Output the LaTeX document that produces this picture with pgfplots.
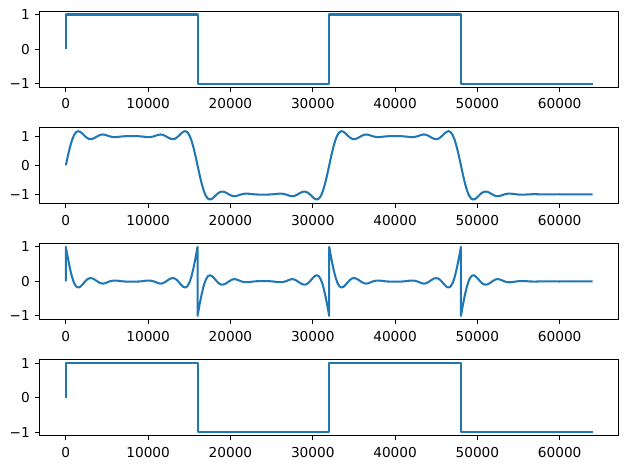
\documentclass[border=0pt]{standalone}
\usepackage{fontspec}
\setmainfont{DejaVu Sans}
\usepackage{pgfplots}
\usepackage{pgfplotstable}
\pgfplotsset{compat=1.18}
\definecolor{C0}{RGB}{31,119,180}

\pgfplotstableread{
x lp hp
0 0 0
0 0 1
250 0.328 0.672
500 0.626 0.374
750 0.871 0.129
1000 1.046 -0.046
1250 1.147 -0.147
1500 1.178 -0.178
1750 1.155 -0.155
2000 1.097 -0.097
2250 1.026 -0.026
2500 0.962 0.038
2750 0.919 0.081
3000 0.904 0.096
3250 0.916 0.084
3500 0.947 0.053
3750 0.988 0.012
4000 1.027 -0.027
4250 1.055 -0.055
4500 1.065 -0.065
4750 1.053 -0.053
5000 1.031 -0.031
5250 1.006 -0.006
5500 0.988 0.012
5750 0.977 0.023
6000 0.976 0.024
6250 0.980 0.020
6500 0.987 0.013
6750 0.995 0.005
7000 1.001 -0.001
7250 1.005 -0.005
7500 1.007 -0.007
7750 1.009 -0.009
8000 1.009 -0.009
8250 1.009 -0.009
8500 1.007 -0.007
8750 1.005 -0.005
9000 1.001 -0.001
9250 0.995 0.005
9500 0.987 0.013
9750 0.980 0.020
10000 0.976 0.024
10250 0.977 0.023
10500 0.988 0.012
10750 1.006 -0.006
11000 1.031 -0.031
11250 1.053 -0.053
11500 1.065 -0.065
11750 1.055 -0.055
12000 1.027 -0.027
12250 0.988 0.012
12500 0.947 0.053
12750 0.916 0.084
13000 0.904 0.096
13250 0.919 0.081
13500 0.962 0.038
13750 1.026 -0.026
14000 1.097 -0.097
14250 1.155 -0.155
14500 1.178 -0.178
14750 1.147 -0.147
15000 1.046 -0.046
15250 0.871 0.129
15500 0.626 0.374
15750 0.328 0.672
16000 0 1
16000 0 -1
16250 -0.328 -0.672
16500 -0.626 -0.374
16750 -0.871 -0.129
17000 -1.046 0.046
17250 -1.147 0.147
17500 -1.178 0.178
17750 -1.155 0.155
18000 -1.097 0.097
18250 -1.026 0.026
18500 -0.962 -0.038
18750 -0.919 -0.081
19000 -0.904 -0.096
19250 -0.916 -0.084
19500 -0.947 -0.053
19750 -0.988 -0.012
20000 -1.027 0.027
20250 -1.055 0.055
20500 -1.065 0.065
20750 -1.053 0.053
21000 -1.031 0.031
21250 -1.006 0.006
21500 -0.988 -0.012
21750 -0.977 -0.023
22000 -0.976 -0.024
22250 -0.980 -0.020
22500 -0.987 -0.013
22750 -0.995 -0.005
23000 -1.001 0.001
23250 -1.005 0.005
23500 -1.007 0.007
23750 -1.009 0.009
24000 -1.009 0.009
24250 -1.009 0.009
24500 -1.007 0.007
24750 -1.005 0.005
25000 -1.001 0.001
25250 -0.995 -0.005
25500 -0.987 -0.013
25750 -0.980 -0.020
26000 -0.976 -0.024
26250 -0.977 -0.023
26500 -0.988 -0.012
26750 -1.006 0.006
27000 -1.031 0.031
27250 -1.053 0.053
27500 -1.065 0.065
27750 -1.055 0.055
28000 -1.027 0.027
28250 -0.988 -0.012
28500 -0.947 -0.053
28750 -0.916 -0.084
29000 -0.904 -0.096
29250 -0.919 -0.081
29500 -0.962 -0.038
29750 -1.026 0.026
30000 -1.097 0.097
30250 -1.155 0.155
30500 -1.178 0.178
30750 -1.147 0.147
31000 -1.046 0.046
31250 -0.871 -0.129
31500 -0.626 -0.374
31750 -0.328 -0.672
32000 0 -1
32000 0 1
32250 0.328 0.672
32500 0.626 0.374
32750 0.871 0.129
33000 1.046 -0.046
33250 1.147 -0.147
33500 1.178 -0.178
33750 1.155 -0.155
34000 1.097 -0.097
34250 1.026 -0.026
34500 0.962 0.038
34750 0.919 0.081
35000 0.904 0.096
35250 0.916 0.084
35500 0.947 0.053
35750 0.988 0.012
36000 1.027 -0.027
36250 1.055 -0.055
36500 1.065 -0.065
36750 1.053 -0.053
37000 1.031 -0.031
37250 1.006 -0.006
37500 0.988 0.012
37750 0.977 0.023
38000 0.976 0.024
38250 0.980 0.020
38500 0.987 0.013
38750 0.995 0.005
39000 1.001 -0.001
39250 1.005 -0.005
39500 1.007 -0.007
39750 1.009 -0.009
40000 1.009 -0.009
40250 1.009 -0.009
40500 1.007 -0.007
40750 1.005 -0.005
41000 1.001 -0.001
41250 0.995 0.005
41500 0.987 0.013
41750 0.980 0.020
42000 0.976 0.024
42250 0.977 0.023
42500 0.988 0.012
42750 1.006 -0.006
43000 1.031 -0.031
43250 1.053 -0.053
43500 1.065 -0.065
43750 1.055 -0.055
44000 1.027 -0.027
44250 0.988 0.012
44500 0.947 0.053
44750 0.916 0.084
45000 0.904 0.096
45250 0.919 0.081
45500 0.962 0.038
45750 1.026 -0.026
46000 1.097 -0.097
46250 1.155 -0.155
46500 1.178 -0.178
46750 1.147 -0.147
47000 1.046 -0.046
47250 0.871 0.129
47500 0.626 0.374
47750 0.328 0.672
48000 0 1
48000 0 -1
48250 -0.328 -0.672
48500 -0.627 -0.373
48750 -0.873 -0.127
49000 -1.048 0.048
49250 -1.148 0.148
49500 -1.179 0.179
49750 -1.155 0.155
50000 -1.095 0.095
50250 -1.024 0.024
50500 -0.960 -0.040
50750 -0.917 -0.083
51000 -0.903 -0.097
51250 -0.916 -0.084
51500 -0.949 -0.051
51750 -0.990 -0.010
52000 -1.030 0.030
52250 -1.057 0.057
52500 -1.066 0.066
52750 -1.053 0.053
53000 -1.029 0.029
53250 -1.004 0.004
53500 -0.985 -0.015
53750 -0.975 -0.025
54000 -0.975 -0.025
54250 -0.980 -0.020
54500 -0.989 -0.011
54750 -0.999 -0.001
55000 -1.006 0.006
55250 -1.010 0.010
55500 -1.010 0.010
55750 -1.008 0.008
56000 -1.005 0.005
56250 -1.000 0.000
56500 -0.997 -0.003
56750 -0.995 -0.005
57000 -0.995 -0.005
57250 -0.996 -0.004
57500 -0.998 -0.002
57750 -1.000 0.000
58000 -1.001 0.001
58250 -1.002 0.002
58500 -1.003 0.003
58750 -1.003 0.003
59000 -1.001 0.001
59250 -1.000 0.000
59500 -0.999 -0.001
59750 -0.998 -0.002
60000 -0.997 -0.003
60250 -0.998 -0.002
60500 -0.999 -0.001
60750 -1.000 0.000
61000 -1.001 0.001
61250 -1.002 0.002
61500 -1.002 0.002
61750 -1.002 0.002
62000 -1.001 0.001
62250 -1.000 0.000
62500 -0.999 -0.001
62750 -0.998 -0.002
63000 -0.998 -0.002
63250 -0.998 -0.002
63500 -0.999 -0.001
63750 -1.000 0.000
64000 -1.001 0.001
}\filt

\pgfplotstableread{
x y
0 0
0 1
16000 1
16000 -1
32000 -1
32000 1
48000 1
48000 -1
64000 -1
}\sq

\pgfplotsset{
  myax/.style={
    scale only axis, width=424pt, height=55.6pt, anchor=south west,
    xmin=-3200, xmax=67200,
    xtick={0,10000,20000,30000,40000,50000,60000},
    xticklabels={0,10000,20000,30000,40000,50000,60000},
    scaled x ticks=false, scaled y ticks=false,
    ytick={-1,0,1}, yticklabels={−1,0,1},
    tick align=outside, xtick pos=bottom, ytick pos=left,
    major tick length=3.5pt,
    every tick/.style={line width=0.8pt, black},
    axis line style={line width=0.8pt, black},
    tick label style={font=\fontsize{10}{12}\selectfont, black},
    xticklabel style={yshift=-1.5pt},
  },
  myline/.style={color=C0, line width=1.5pt, line join=round, no marks},
}

\begin{document}
\begin{tikzpicture}
\path[use as bounding box] (0,0) rectangle (461pt,343.2pt);
\begin{axis}[myax, at={(28.9pt,279.5pt)}, ymin=-1.1, ymax=1.1]
  \addplot[myline] table[x=x, y=y] {\sq};
\end{axis}
\begin{axis}[myax, at={(28.9pt,194.4pt)}, ymin=-1.31, ymax=1.31]
  \addplot[myline] table[x=x, y=lp] {\filt};
\end{axis}
\begin{axis}[myax, at={(28.9pt,109.5pt)}, ymin=-1.1, ymax=1.1]
  \addplot[myline] table[x=x, y=hp] {\filt};
\end{axis}
\begin{axis}[myax, at={(28.9pt,24.4pt)}, ymin=-1.1, ymax=1.1]
  \addplot[myline] table[x=x, y=y] {\sq};
\end{axis}
\end{tikzpicture}
\end{document}
